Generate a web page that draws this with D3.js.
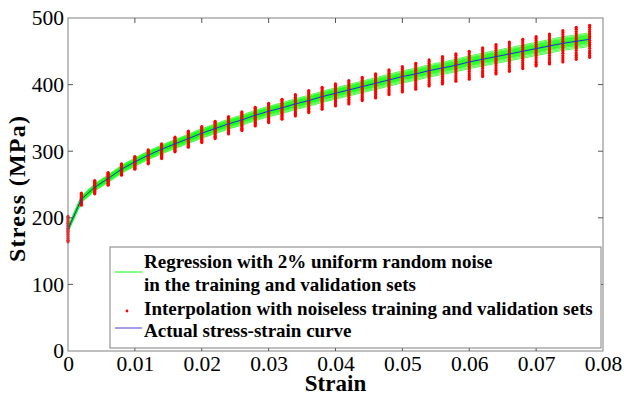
<!DOCTYPE html>
<html lang="en">
<head>
<meta charset="UTF-8">
<title>Stress-strain curve</title>
<script src="https://d3js.org/d3.v7.min.js"></script>
<style>
    body { margin: 0; background: #fff; }
</style>
</head>
<body>
<div id="chart"></div>
<script>
// strain positions of the sampled points
var strain = [0, 0.002, 0.004, 0.006, 0.008, 0.010, 0.012, 0.014, 0.016, 0.018,
              0.020, 0.022, 0.024, 0.026, 0.028, 0.030, 0.032, 0.034, 0.036, 0.038,
              0.040, 0.042, 0.044, 0.046, 0.048, 0.050, 0.052, 0.054, 0.056, 0.058,
              0.060, 0.062, 0.064, 0.066, 0.068, 0.070, 0.072, 0.074, 0.076, 0.078];

// actual stress-strain curve (MPa)
var actualStress = [183, 228, 246, 259, 273, 284, 294, 303, 311, 319,
                    327, 334, 341, 347, 354, 360, 365, 371, 376, 382,
                    387, 392, 397, 402, 407, 412, 416, 421, 425, 429,
                    434, 438, 442, 446, 450, 454, 458, 462, 465, 468];

// top and bottom of each red column of interpolation points (MPa)
var redTop = [202, 237, 256, 268, 281, 292, 302, 311, 321, 330,
              337, 345, 352, 359, 366, 372, 378, 385, 391, 396,
              401, 406, 411, 416, 422, 427, 432, 437, 442, 446,
              450, 455, 460, 464, 468, 472, 476, 481, 486, 489];
var redBottom = [164, 219, 236, 249, 264, 273, 281, 289, 299, 306,
                 313, 319, 326, 331, 338, 343, 348, 353, 358, 363,
                 368, 371, 376, 380, 385, 389, 393, 398, 401, 405,
                 408, 412, 416, 420, 424, 428, 431, 434, 438, 441];
// where the points of one column sit between its bottom (0) and top (1)
var redSpots = [0, 0.06, 0.13, 0.2, 0.28, 0.35, 0.41, 0.47, 0.53, 0.6, 0.66, 0.73, 0.8, 0.87, 0.94, 1];

// regression runs, as a ratio to the actual curve
var greenRatio = [0.977, 0.981, 0.985, 0.988, 0.990, 0.992, 0.994, 0.996, 0.998, 0.999,
                  1.001, 1.003, 1.004, 1.006, 1.008, 1.010, 1.012, 1.014, 1.017, 1.021];

var xTicks = [0, 0.01, 0.02, 0.03, 0.04, 0.05, 0.06, 0.07, 0.08];
var yTicks = [0, 100, 200, 300, 400, 500];

var legendLines = ["Regression with 2% uniform random noise",
                   "in the training and validation sets",
                   "Interpolation with noiseless training and validation sets",
                   "Actual stress-strain curve"];

var serif = "'Liberation Serif', 'Times New Roman', Times, 'DejaVu Serif', serif";

var width = 624, height = 398;
var margin = {left: 68, right: 21, top: 18, bottom: 47};

var svg = d3.select("#chart").append("svg")
    .attr("width", width)
    .attr("height", height)
    .style("font-family", serif);

var x = d3.scaleLinear().domain([0, 0.08]).range([margin.left, width - margin.right]);
var y = d3.scaleLinear().domain([0, 500]).range([height - margin.bottom, margin.top]);

var points = strain.map(function(s, i) { return {s: s, v: actualStress[i]}; });

// green regression lines
var line = d3.line()
    .x(function(d) { return x(d.s); })
    .y(function(d) { return y(d.v); });

svg.append("g").selectAll("path")
    .data(greenRatio)
    .enter().append("path")
    .attr("d", function(r) {
        return line(points.map(function(p) { return {s: p.s, v: p.v * r}; }));
    })
    .attr("fill", "none")
    .attr("stroke", "#00ff00")
    .attr("stroke-opacity", 0.7)
    .attr("stroke-width", 1);

// red interpolation points
var redData = [];
strain.forEach(function(s, i) {
    redSpots.forEach(function(f) {
        redData.push({s: s, v: redBottom[i] + f * (redTop[i] - redBottom[i])});
    });
});

svg.append("g").selectAll("circle")
    .data(redData)
    .enter().append("circle")
    .attr("cx", function(d) { return x(d.s); })
    .attr("cy", function(d) { return y(d.v); })
    .attr("r", 1.6)
    .attr("fill", "#ff0000");

// blue actual curve
svg.append("path")
    .attr("d", line(points))
    .attr("fill", "none")
    .attr("stroke", "#2a2ad8")
    .attr("stroke-width", 1);

// axes box
var axisColor = "#808080";
var tickLen = 5;

svg.append("rect")
    .attr("x", x(0)).attr("y", y(500))
    .attr("width", x(0.08) - x(0)).attr("height", y(0) - y(500))
    .attr("fill", "none")
    .attr("stroke", axisColor)
    .attr("stroke-width", 1);

var xAxis = d3.axisBottom(x).tickValues(xTicks).tickSize(0).tickPadding(5)
    .tickFormat(function(d) { return d === 0 ? "0" : d3.format(".2f")(d); });
var yAxis = d3.axisLeft(y).tickValues(yTicks).tickSize(0).tickPadding(4);

var gx = svg.append("g").attr("transform", "translate(0," + y(0) + ")").call(xAxis);
var gy = svg.append("g").attr("transform", "translate(" + x(0) + ",0)").call(yAxis);
[gx, gy].forEach(function(g) {
    g.attr("font-family", serif).attr("font-size", 21.5);
    g.select(".domain").remove();
    g.selectAll("text").attr("fill", "#000");
});

// inward tick marks on all four sides
var ticks = svg.append("g").attr("stroke", "#555").attr("stroke-width", 1);
xTicks.slice(1, -1).forEach(function(t) {
    ticks.append("line").attr("x1", x(t)).attr("x2", x(t)).attr("y1", y(0)).attr("y2", y(0) - tickLen);
    ticks.append("line").attr("x1", x(t)).attr("x2", x(t)).attr("y1", y(500)).attr("y2", y(500) + tickLen);
});
yTicks.slice(1, -1).forEach(function(t) {
    ticks.append("line").attr("x1", x(0)).attr("x2", x(0) + tickLen).attr("y1", y(t)).attr("y2", y(t));
    ticks.append("line").attr("x1", x(0.08)).attr("x2", x(0.08) - tickLen).attr("y1", y(t)).attr("y2", y(t));
});

// axis titles
svg.append("text")
    .attr("x", (x(0) + x(0.08)) / 2)
    .attr("y", 391)
    .attr("text-anchor", "middle")
    .attr("font-family", serif)
    .attr("font-size", 23)
    .attr("font-weight", "bold")
    .text("Strain");

svg.append("text")
    .attr("transform", "translate(25," + 189 + ") rotate(-90)")
    .attr("text-anchor", "middle")
    .attr("font-family", serif)
    .attr("font-size", 24)
    .attr("font-weight", "bold")
    .attr("textLength", 146)
    .text("Stress (MPa)");

// legend
var legend = svg.append("g");
legend.append("rect")
    .attr("x", 110).attr("y", 247)
    .attr("width", 491).attr("height", 101)
    .attr("fill", "#fff")
    .attr("stroke", axisColor)
    .attr("stroke-width", 1);

legend.append("line")
    .attr("x1", 115).attr("x2", 142).attr("y1", 272).attr("y2", 272)
    .attr("stroke", "#00ff00").attr("stroke-width", 1);
legend.append("circle")
    .attr("cx", 127).attr("cy", 311).attr("r", 1.4)
    .attr("fill", "#ff0000");
legend.append("line")
    .attr("x1", 115).attr("x2", 142).attr("y1", 328).attr("y2", 328)
    .attr("stroke", "#4040e0").attr("stroke-width", 1);

var baselines = [268, 291, 315, 337];
legend.selectAll("text.leg")
    .data(legendLines)
    .enter().append("text")
    .attr("class", "leg")
    .attr("x", 144)
    .attr("y", function(d, i) { return baselines[i]; })
    .attr("font-family", serif)
    .attr("font-size", 19)
    .attr("font-weight", "bold")
    .text(function(d) { return d; });
</script>
</body>
</html>
